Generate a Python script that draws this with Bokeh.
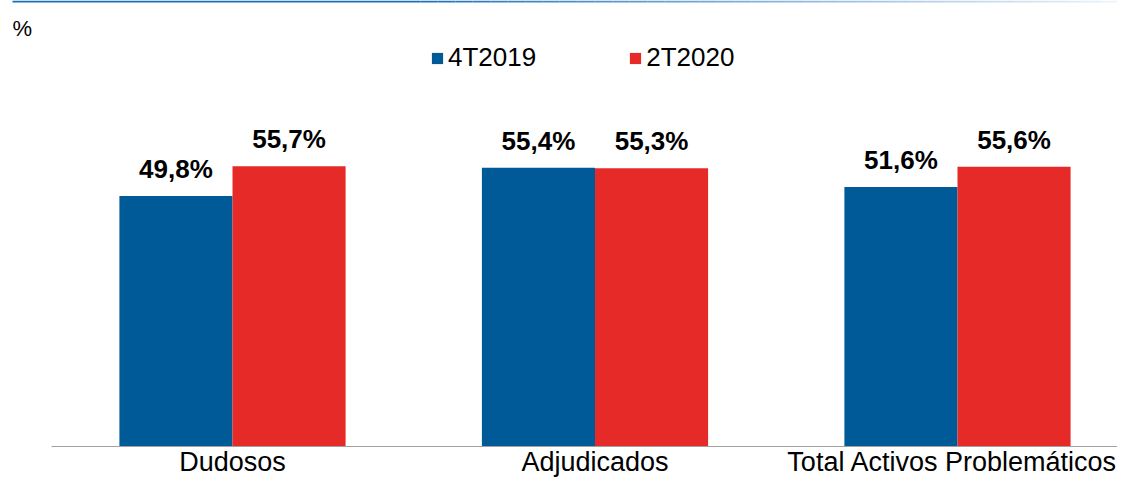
from bokeh.plotting import figure
from bokeh.models import (Range1d, FixedTicker, ColumnDataSource, LabelSet, Label,
                          Legend, LegendItem, BoxAnnotation)
from bokeh.core.properties import value
from bokeh.embed import file_html
from bokeh.resources import INLINE

categories = ["Dudosos", "Adjudicados", "Total Activos Problemáticos"]
series_names = ["4T2019", "2T2020"]
values_4t2019 = [49.8, 55.4, 51.6]
values_2t2020 = [55.7, 55.3, 55.6]
labels_4t2019 = ["49,8%", "55,4%", "51,6%"]
labels_2t2020 = ["55,7%", "55,3%", "55,6%"]

BLUE = "#005A98"
RED = "#E52A28"
FONT = "Liberation Sans"

W, H = 1117, 479
FRAME_H = 446
p = figure(width=W, height=H, output_backend="svg", toolbar_location=None,
           x_range=Range1d(-0.64, 2.4414), y_range=Range1d(0, 88.67),
           min_border_left=0, min_border_right=0, min_border_top=0,
           min_border_bottom=29)
p.outline_line_color = None
p.grid.visible = False
p.yaxis.visible = False

idx = list(range(len(categories)))
bw = 0.312
src = ColumnDataSource(dict(
    xb=[i - bw / 2 for i in idx], xr=[i + bw / 2 for i in idx],
    vb=values_4t2019, vr=values_2t2020, lb=labels_4t2019, lr=labels_2t2020))

rb = p.vbar(x="xb", top="vb", width=bw, source=src, fill_color=BLUE, line_color=None)
rr = p.vbar(x="xr", top="vr", width=bw, source=src, fill_color=RED, line_color=None)

for xcol, ycol, tcol in (("xb", "vb", "lb"), ("xr", "vr", "lr")):
    p.add_layout(LabelSet(x=xcol, y=ycol, text=tcol, source=src, y_offset=18,
                          text_align="center", text_baseline="alphabetic",
                          text_font=value(FONT), text_font_size=value("26px"),
                          text_font_style="bold", text_color="#000000"))

ax = p.xaxis[0]
ax.ticker = FixedTicker(ticks=idx)
ax.major_label_overrides = {i: c for i, c in zip(idx, categories)}
ax.major_label_text_font = FONT
ax.major_label_text_font_size = "27px"
ax.major_label_text_color = "#000000"
ax.major_label_standoff = 0
ax.major_tick_out = 0
ax.major_tick_in = 0
ax.minor_tick_out = 0
ax.minor_tick_in = 0
ax.axis_label_standoff = 0
ax.major_tick_line_color = None
ax.minor_tick_line_color = None
ax.axis_line_color = "#A0A0A0"
ax.axis_line_width = 1
ax.bounds = (-0.4993, 3)

legend = Legend(items=[LegendItem(label=series_names[0], renderers=[rb]),
                       LegendItem(label=series_names[1], renderers=[rr])],
                orientation="horizontal", location=(430, 373),
                glyph_width=14, glyph_height=14, label_standoff=4, spacing=92,
                padding=0, margin=0, border_line_color=None,
                background_fill_alpha=0,
                label_text_font=FONT, label_text_font_size="26px",
                label_text_color="#000000")
p.add_layout(legend, "center")

p.add_layout(Label(x=12, y=FRAME_H - 28, x_units="screen", y_units="screen", text="%",
                   text_font=FONT, text_font_size="22px", text_color="#000000",
                   text_baseline="alphabetic"))

# top rule fading from blue to white
def top_box(l, r, alpha):
    return BoxAnnotation(left=l, right=r, top=FRAME_H, bottom=FRAME_H - 2,
                         left_units="screen", right_units="screen",
                         top_units="screen", bottom_units="screen",
                         fill_color="#1A6FB8", fill_alpha=alpha,
                         line_color=None, line_alpha=0)

p.add_layout(top_box(12, 420, 1.0))
steps = 40
seg = (1117 - 420) / steps
for k in range(steps):
    l = 420 + k * seg
    p.add_layout(top_box(round(l), round(l + seg), 0.9 * (1 - (k + 0.5) / steps) + 0.08))

out = file_html(p, INLINE)
open("out.html", "w").write(out)
